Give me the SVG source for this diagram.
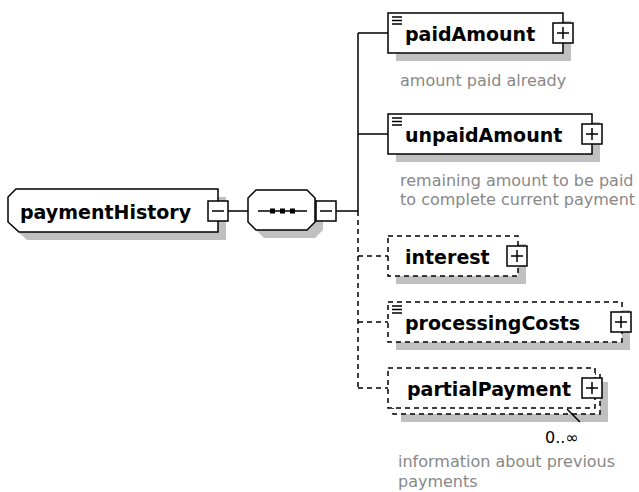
<svg xmlns="http://www.w3.org/2000/svg" width="639" height="492" viewBox="0 0 639 492">
<style>
.box{fill:#fff;stroke:#000;stroke-width:1.5}
.dbox{fill:#fff;stroke:#000;stroke-width:1.5;stroke-dasharray:5 4}
.shadow{fill:#c0c0c0}
.name{font-family:"DejaVu Sans",Verdana,sans-serif;font-weight:bold;font-size:19px;fill:#000}
.desc{font-family:"DejaVu Sans",Verdana,sans-serif;font-size:16px;fill:#888}
.occ{font-family:"DejaVu Sans",Verdana,sans-serif;font-size:16px;fill:#000}
.btn{fill:#fff;stroke:#000;stroke-width:1.5}
.conn{stroke:#000;stroke-width:1.5;fill:none}
.dash{stroke-dasharray:5 4}
.icon{stroke:#000;stroke-width:1.3}
</style>
<defs>
<g id="plus"><rect class="btn" x="-10" y="-10" width="20" height="20"/><path class="conn" d="M-6 0H6M0 -6V6"/></g>
<g id="minus"><rect class="btn" x="-10" y="-10" width="20" height="20"/><path class="conn" d="M-6 0H6"/></g>
<g id="ico"><path class="icon" d="M0 0H10M0 3.5H10M0 7H10"/></g>
</defs>

<g id="connectors">
<path class="conn" d="M228 211H248M336 211H358M358 33V211M358 33H388M358 134H388"/>
<path class="conn dash" d="M358 211V388M358 256H388M358 322H388M358 388H388"/>
</g>

<g id="paymentHistory">
<path class="shadow" d="M24 197L226 197L226 240L27 240L16 230L16 205Z"/>
<path class="box" d="M16 189L218 189L218 232L19 232L8 222L8 197Z"/>
<text class="name" x="20" y="219">paymentHistory</text>
<use href="#minus" x="218" y="211"/>
</g>

<g id="sequence">
<path class="shadow" d="M264 198L315 198L323 206L323 230L315 238L264 238L256 230L256 206Z"/>
<path class="box" d="M256 190L307 190L315 198L315 222L307 230L256 230L248 222L248 198Z"/>
<path class="conn" d="M258 211H307"/>
<rect x="270" y="208.5" width="5" height="5" fill="#000"/>
<rect x="280" y="208.5" width="5" height="5" fill="#000"/>
<rect x="290" y="208.5" width="5" height="5" fill="#000"/>
<use href="#minus" x="326" y="211"/>
</g>

<g id="paidAmount">
<rect class="shadow" x="396" y="21" width="175" height="40"/>
<rect class="box" x="388" y="13" width="175" height="40"/>
<use href="#ico" x="392" y="17"/>
<text class="name" x="405" y="41">paidAmount</text>
<use href="#plus" x="563" y="33"/>
<text class="desc" x="400" y="86">amount paid already</text>
</g>

<g id="unpaidAmount">
<rect class="shadow" x="396" y="122" width="204" height="40"/>
<rect class="box" x="388" y="114" width="204" height="40"/>
<use href="#ico" x="392" y="118"/>
<text class="name" x="405" y="142">unpaidAmount</text>
<use href="#plus" x="592" y="134"/>
<text class="desc" x="400" y="186">remaining amount to be paid</text>
<text class="desc" x="400" y="205">to complete current payment</text>
</g>

<g id="interest">
<rect class="shadow" x="396" y="244" width="130" height="40"/>
<rect class="dbox" x="388" y="236" width="130" height="40"/>
<text class="name" x="405" y="264">interest</text>
<use href="#plus" x="517" y="256"/>
</g>

<g id="processingCosts">
<rect class="shadow" x="396" y="310" width="234" height="40"/>
<rect class="dbox" x="388" y="302" width="234" height="40"/>
<use href="#ico" x="392" y="306"/>
<text class="name" x="405" y="330">processingCosts</text>
<use href="#plus" x="621" y="322"/>
</g>

<g id="partialPayment">
<rect class="shadow" x="401" y="382" width="207" height="40"/>
<rect class="dbox" x="393" y="374" width="207" height="40"/>
<rect class="dbox" x="388" y="368" width="207" height="40"/>
<text class="name" x="407" y="396">partialPayment</text>
<use href="#plus" x="592" y="388"/>
<path class="conn" d="M567 409L580 422" stroke-width="1"/>
<text class="occ" x="545" y="443">0..∞</text>
<text class="desc" x="398" y="467">information about previous</text>
<text class="desc" x="398" y="487">payments</text>
</g>
</svg>
